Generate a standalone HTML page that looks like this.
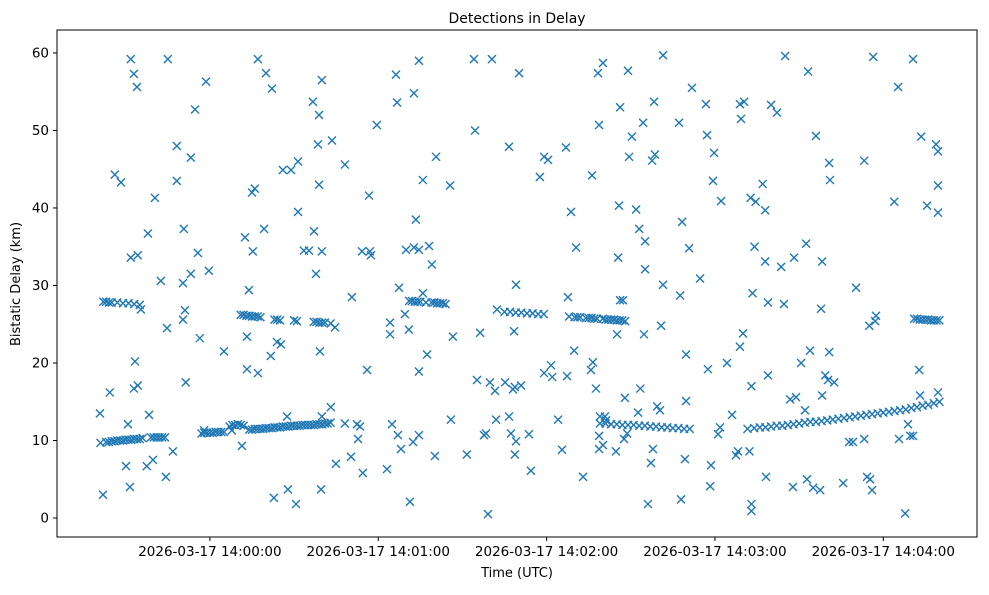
<!DOCTYPE html>
<html><head><meta charset="utf-8"><style>
body{margin:0;background:#fff;}
svg text{font-family:"DejaVu Sans","Liberation Sans",sans-serif;fill:#000;}
</style></head><body>
<svg id="chart" width="989" height="590" xmlns="http://www.w3.org/2000/svg">
<rect x="0" y="0" width="989" height="590" fill="#fff"/>
<text x="517" y="23" font-size="14" text-anchor="middle">Detections in Delay</text>
<text x="517" y="577" font-size="13" text-anchor="middle">Time (UTC)</text>
<text x="0" y="0" font-size="13" text-anchor="middle" transform="translate(20,284) rotate(-90)">Bistatic Delay (km)</text>
<g id="marks"></g>
<g id="axes"></g>
</svg>
<script>
// seconds since 14:00:00 UTC
const noiseTimes=[-39.2,-38.1,-35.7,-33.9,-31.7,-29.9,-29.2,-28.5,-28.2,-27.1,-26.0,-28.2,-25.7,-26.7,-27.1,-25.7,-24.6,-22.5,-22.1,-21.7,-20.3,-19.6,-17.5,-15.7,-15.0,-15.3,-13.2,-11.8,-11.8,-9.6,-9.3,-9.6,-8.9,-8.6,-6.8,-5.3,-6.8,-4.3,-3.6,-2.1,-1.4,-0.4,5.0,7.8,11.4,12.5,13.9,13.2,13.2,15.0,16.0,15.3,17.1,17.1,19.3,20.0,22.1,21.7,23.9,25.3,22.8,26.0,27.8,28.9,30.7,31.4,31.4,27.5,33.5,35.3,36.7,37.1,38.9,37.8,38.5,38.9,39.9,39.9,39.2,39.6,39.9,43.5,43.1,44.6,44.9,48.1,48.1,50.6,50.3,52.4,52.8,53.5,54.2,54.5,56.0,57.0,56.7,57.4,59.5,63.1,64.2,64.2,64.9,66.3,66.7,67.0,67.4,68.1,69.5,69.9,70.9,71.3,72.4,72.7,72.7,73.4,74.5,74.5,74.5,74.5,75.9,75.9,77.4,78.1,79.1,80.6,80.2,85.6,85.9,86.6,91.6,94.1,94.5,95.2,96.3,97.7,99.1,98.4,99.8,100.5,101.6,102.0,102.3,105.2,106.6,106.6,107.3,108.0,108.7,108.7,109.1,108.4,109.1,110.2,110.9,113.7,114.4,117.6,119.1,120.5,119.1,121.6,122.0,124.1,125.5,126.9,127.3,127.6,128.7,129.8,130.5,133.0,135.8,136.2,136.5,138.3,137.6,138.7,138.7,138.7,139.0,140.1,140.1,140.8,141.2,144.7,145.1,145.5,145.8,146.2,146.2,147.2,147.6,147.9,148.7,149.0,149.4,150.4,151.9,152.6,153.0,153.4,154.4,155.1,155.1,154.7,156.1,157.2,157.6,157.9,158.3,158.6,159.4,160.4,160.8,161.5,161.5,167.2,167.6,168.3,167.9,169.3,169.7,169.7,170.8,171.8,174.7,176.8,177.5,177.2,178.3,178.6,179.3,179.7,181.1,182.2,181.8,184.3,186.1,187.5,188.2,188.9,189.3,190.4,190.0,188.9,191.6,192.3,192.7,193.0,193.4,193.0,193.0,194.1,194.5,197.0,198.2,198.9,198.9,197.9,197.9,200.0,202.1,203.6,205.0,204.6,206.8,208.2,208.9,207.8,210.7,212.1,212.5,212.8,213.2,213.9,215.0,216.0,217.5,217.8,218.2,218.2,219.3,220.3,220.7,221.0,220.7,222.5,225.7,227.8,229.2,230.3,233.2,233.2,234.2,235.3,235.0,236.0,236.4,237.1,237.4,243.9,245.3,245.6,247.8,248.8,249.6,250.6,250.6,252.8,253.1,253.5,255.6,258.8,259.5,259.5,259.5,259.5];
const noiseKm=[13.5,3.0,16.2,44.3,43.3,6.7,12.1,4.0,59.2,57.3,55.6,33.6,33.9,20.2,16.7,17.1,26.9,6.7,36.7,13.3,7.5,41.3,30.6,5.3,59.2,24.5,8.6,48.0,43.5,30.3,37.3,25.6,26.8,17.5,46.5,52.7,31.5,34.2,23.2,11.3,56.3,31.9,21.5,11.3,9.3,36.2,29.4,23.4,19.2,42.0,42.5,34.4,59.2,18.7,37.3,57.4,55.4,20.9,22.7,22.4,2.6,44.9,3.7,44.9,1.8,46.0,39.5,13.1,34.5,34.5,53.7,37.0,52.0,31.5,48.2,43.0,56.5,34.4,21.5,3.7,13.1,48.7,14.3,24.6,7.0,45.6,12.2,28.5,7.9,12.1,10.2,11.8,34.4,5.8,19.1,34.4,41.6,33.9,50.7,6.3,25.2,23.7,12.1,57.2,53.6,10.7,29.7,8.9,26.3,34.6,24.3,2.1,9.8,54.8,34.9,38.5,34.6,59.0,18.9,10.7,29.0,43.6,21.1,35.1,32.7,46.6,8.0,42.9,12.7,23.4,8.2,59.2,50.0,17.8,23.9,10.7,0.5,10.9,17.5,59.2,16.4,12.7,26.9,17.5,47.9,13.1,10.9,16.6,8.2,16.9,30.1,24.1,9.9,57.4,17.1,10.8,6.1,44.0,46.6,46.2,18.7,19.7,18.2,12.7,8.8,47.8,18.3,28.5,39.5,21.6,34.9,5.3,19.1,44.2,20.1,57.4,16.7,8.9,50.7,10.6,13.1,58.7,9.4,13.1,12.6,8.6,23.7,33.6,40.3,53.0,28.1,28.1,10.2,15.5,10.9,57.7,46.6,49.2,39.8,13.6,37.3,16.7,51.0,35.7,32.1,23.7,1.8,7.1,46.1,8.9,53.7,46.9,14.4,13.9,24.8,59.7,30.1,51.0,28.7,38.2,2.4,7.6,15.1,21.1,34.8,55.5,30.9,53.4,19.2,49.4,4.1,6.8,43.5,47.1,10.8,40.9,11.7,20.0,13.3,8.1,8.6,53.4,51.5,53.7,23.8,22.1,11.5,8.6,41.3,17.0,29.0,1.8,0.9,35.0,40.8,43.1,5.3,27.8,18.4,33.1,39.7,53.3,52.3,32.4,59.6,27.6,15.3,33.6,15.6,4.0,20.0,13.9,35.4,5.0,57.6,21.6,3.9,49.3,3.6,27.0,33.1,15.8,18.4,17.8,45.8,43.6,21.4,17.5,4.5,9.8,9.8,29.7,46.1,10.2,5.3,5.0,24.8,3.6,59.5,25.4,26.1,40.8,55.6,10.2,0.6,12.1,10.6,59.2,10.6,19.1,15.8,49.2,40.3,48.2,47.3,42.9,39.4,16.2];
const lowTrackTimes=[-39,-37,-36,-35,-34,-33,-32,-31,-30,-29,-28,-27,-26,-25,-24,-21,-20,-19,-18,-17,-16,-3,-2,-1,0,1,2,3,4,5,7,8,9,10,11,12,14,15,16,17,18,19,20,21,22,23,24,25,26,27,28,29,30,31,32,33,34,35,36,37,38,39,40,41,42,43,139,141,143,145,147,149,151,153,155,157,159,161,163,165,167,169,171,194,196,198,200,202,204,206,208,210,212,214,216,218,220,222,224,226,228,230,232,234,236,238,240,242,244,246,248,250,252,254,256,258,260];
const lowTrackKm=[9.7,9.8,9.8,9.9,9.9,10.0,10.0,10.0,10.1,10.1,10.1,10.2,10.2,10.2,10.3,10.4,10.4,10.4,10.4,10.4,10.4,10.9,11.0,11.0,11.0,11.0,11.1,11.1,11.1,11.1,11.8,12.0,12.0,12.1,12.0,11.9,11.4,11.4,11.5,11.5,11.5,11.5,11.6,11.6,11.6,11.7,11.7,11.7,11.8,11.8,11.8,11.9,11.9,11.9,11.9,12.0,12.0,12.0,12.0,12.0,12.1,12.1,12.1,12.2,12.2,12.3,12.2,12.2,12.1,12.1,12.0,12.0,12.0,11.9,11.9,11.8,11.8,11.7,11.7,11.6,11.6,11.5,11.5,11.6,11.7,11.7,11.8,11.9,11.9,12.0,12.1,12.2,12.3,12.4,12.4,12.5,12.6,12.7,12.8,12.9,13.0,13.1,13.2,13.3,13.4,13.5,13.6,13.7,13.8,13.9,14.0,14.2,14.3,14.5,14.6,14.8,15.0];
const highTrackTimes=[-38,-37,-36,-35,-33,-31,-29,-27,-25,11,12,13,14,15,16,17,18,23,24,25,30,31,37,38,39,40,41,43,71,72,73,74,75,77,79,80,81,82,83,84,105,107,109,111,113,115,117,119,128,130,131,132,134,135,136,137,138,140,141,142,143,144,145,146,147,148,251,252,253,254,255,256,257,258,259,260];
const highTrackKm=[27.9,27.9,27.8,27.8,27.8,27.7,27.7,27.6,27.5,26.2,26.2,26.1,26.1,26.0,26.0,26.0,25.9,25.6,25.6,25.5,25.5,25.4,25.3,25.3,25.2,25.2,25.2,25.1,28.0,28.0,27.9,27.9,27.9,27.8,27.8,27.8,27.7,27.7,27.7,27.6,26.6,26.6,26.5,26.5,26.4,26.4,26.3,26.3,26.0,25.9,25.9,25.9,25.8,25.8,25.8,25.7,25.7,25.7,25.6,25.6,25.6,25.6,25.5,25.5,25.5,25.4,25.7,25.7,25.6,25.6,25.6,25.6,25.5,25.5,25.5,25.5];
const yTicks=[0,10,20,30,40,50,60];
const xTicks=[0,60,120,180,240];
const xTickLabels=["2026-03-17 14:00:00","2026-03-17 14:01:00","2026-03-17 14:02:00","2026-03-17 14:03:00","2026-03-17 14:04:00"];

const L=57,R=977,T=30,B=537;
const xMin=-54.5,xMax=273.4,yMin=-2.45,yMax=62.96;
function xs(v){return L+(v-xMin)/(xMax-xMin)*(R-L);}
function ys(v){return B-(v-yMin)/(yMax-yMin)*(B-T);}
const NS="http://www.w3.org/2000/svg";
const marks=document.getElementById('marks');
function drawSeries(ts,ks){
  for(let i=0;i<ts.length;i++){
    const cx=xs(ts[i]),cy=ys(ks[i]),r=4;
    const p=document.createElementNS(NS,'path');
    p.setAttribute('d',`M${cx-r},${cy-r}L${cx+r},${cy+r}M${cx-r},${cy+r}L${cx+r},${cy-r}`);
    p.setAttribute('stroke','#1f77b4');p.setAttribute('stroke-width','1.4');p.setAttribute('fill','none');
    
    
    marks.appendChild(p);
  }
}
drawSeries(noiseTimes,noiseKm);
drawSeries(lowTrackTimes,lowTrackKm);
drawSeries(highTrackTimes,highTrackKm);

const axes=document.getElementById('axes');
const frame=document.createElementNS(NS,'rect');
frame.setAttribute('x',L);frame.setAttribute('y',T);frame.setAttribute('width',R-L);frame.setAttribute('height',B-T);
frame.setAttribute('fill','none');frame.setAttribute('stroke','#000');frame.setAttribute('stroke-width','1');


axes.appendChild(frame);
yTicks.forEach(v=>{
  const y=ys(v);
  const l=document.createElementNS(NS,'line');
  l.setAttribute('x1',L-4);l.setAttribute('x2',L);l.setAttribute('y1',y);l.setAttribute('y2',y);l.setAttribute('stroke','#000');
  
  
  axes.appendChild(l);
  const t=document.createElementNS(NS,'text');
  t.setAttribute('x',L-8);t.setAttribute('y',y+4.5);t.setAttribute('font-size','13.5');t.setAttribute('text-anchor','end');
  t.textContent=String(v);
  
  
  axes.appendChild(t);
});
xTicks.forEach((v,i)=>{
  const x=xs(v);
  const l=document.createElementNS(NS,'line');
  l.setAttribute('x1',x);l.setAttribute('x2',x);l.setAttribute('y1',B);l.setAttribute('y2',B+4);l.setAttribute('stroke','#000');
  
  
  axes.appendChild(l);
  const t=document.createElementNS(NS,'text');
  t.setAttribute('x',x);t.setAttribute('y',B+19);t.setAttribute('font-size','13.5');t.setAttribute('text-anchor','middle');
  t.textContent=xTickLabels[i];
  
  
  axes.appendChild(t);
});
</script>
</body></html>
